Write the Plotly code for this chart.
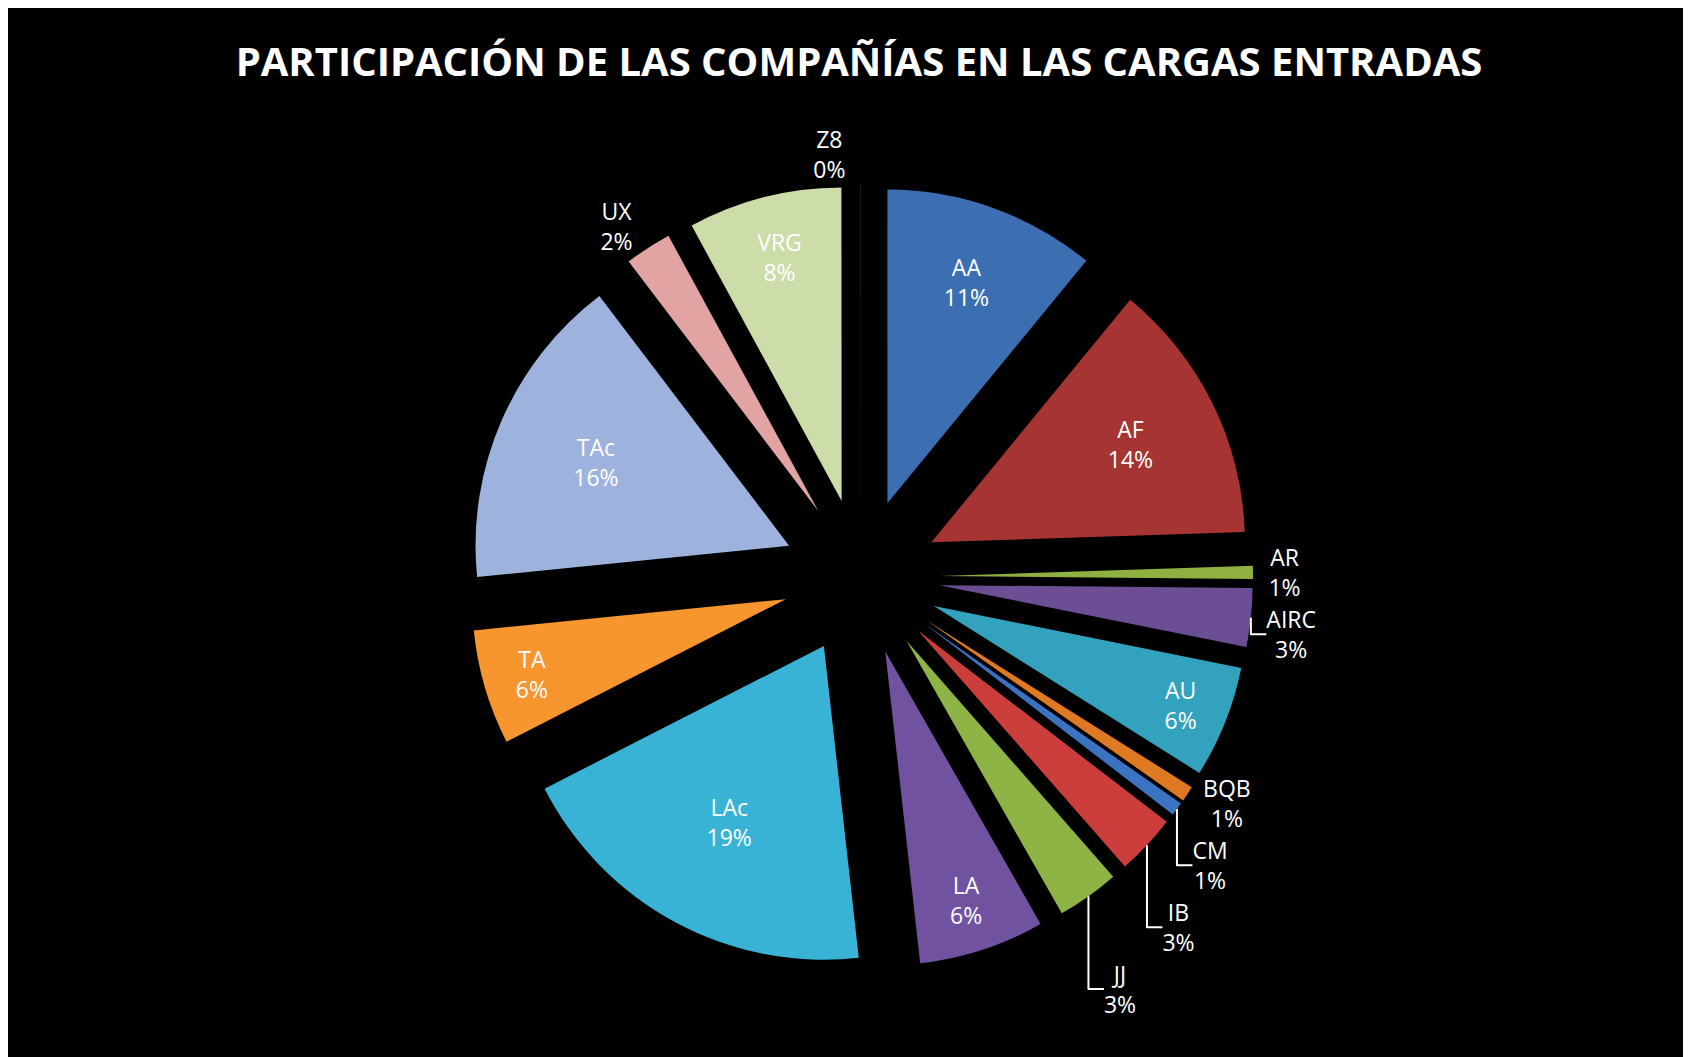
import plotly.graph_objects as go

# Participación (%) por compañía, en orden horario desde las 12
companias = ["AA", "AF", "AR", "AIRC", "AU", "BQB", "CM", "IB", "JJ",
             "LA", "LAc", "TA", "TAc", "UX", "VRG", "Z8"]
participacion = [10.9, 13.5, 0.67, 3.0, 5.75, 0.8, 0.7, 3.1, 3.2,
                 6.45, 19.2, 5.9, 16.2, 2.4, 7.9, 0.01]
colores = ["#3C6FB2", "#A63432", "#8EB142", "#6B4E94", "#32A2BE", "#E07A22",
           "#3A73C2", "#CC3E3C", "#8DB444", "#7052A0", "#39B3D5", "#F7952F",
           "#9DB2DD", "#E2A3A3", "#CCDDAA", "#8064A2"]
posiciones = ["inside", "inside", "outside", "outside", "inside", "outside",
              "outside", "outside", "outside", "inside", "inside", "inside",
              "inside", "outside", "inside", "outside"]

W, H = 1691, 1057
# la página tiene un margen de 8 px: coordenadas de la figura = página - 8
OFF = 8

fig = go.Figure(go.Pie(
    labels=companias,
    values=participacion,
    sort=False,
    direction="clockwise",
    rotation=0,
    pull=0.25,
    marker=dict(colors=colores, line=dict(width=0)),
    texttemplate="%{label}<br>%{percent:.0%}",
    textposition=posiciones,
    insidetextorientation="horizontal",
    insidetextfont=dict(family="Open Sans", size=23, color="white"),
    outsidetextfont=dict(family="Open Sans", size=23, color="white"),
    domain=dict(x=[(469 - OFF) / W, (1253 - OFF) / W],
                y=[1 - (969 - OFF) / H, 1 - (185 - OFF) / H]),
    hoverinfo="label+percent",
    showlegend=False,
    automargin=False,
))

fig.update_layout(
    width=W,
    height=H,
    margin=dict(t=0, b=0, l=0, r=0, autoexpand=False),
    paper_bgcolor="black",
    plot_bgcolor="black",
    showlegend=False,
    title=dict(
        text="<b>PARTICIPACIÓN DE LAS COMPAÑÍAS EN LAS CARGAS ENTRADAS</b>",
        x=(859 - OFF) / W, xanchor="center",
        y=1 - (62 - OFF) / H, yanchor="middle",
        font=dict(family="Open Sans", size=40, color="white"),
        automargin=False,
    ),
)

fig.write_html("out.html")
